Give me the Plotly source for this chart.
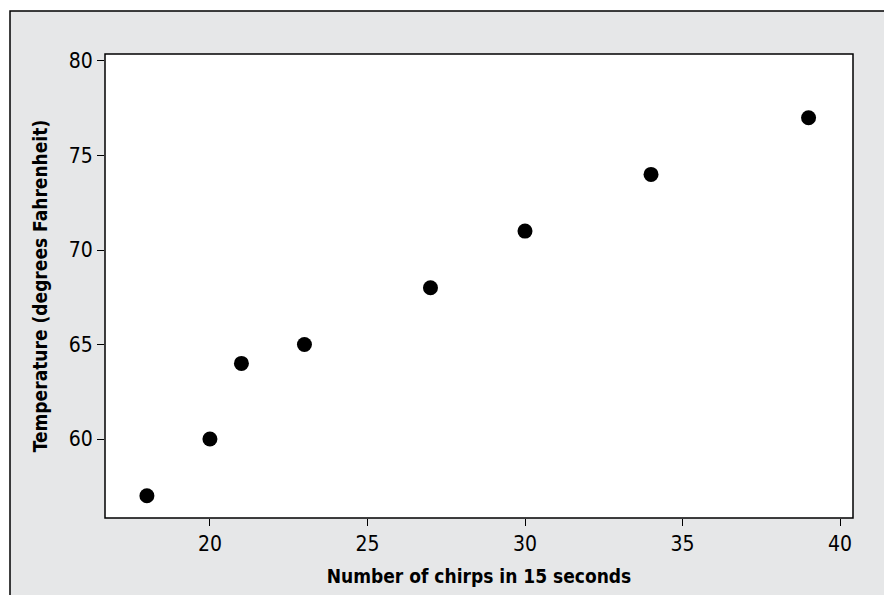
import plotly.graph_objects as go

# chirps vs temperature
chirps = [18, 20, 21, 23, 27, 30, 34, 39]
temp_f = [57, 60, 64, 65, 68, 71, 74, 77]

x_ticks = [20, 25, 30, 35, 40]
y_ticks = [60, 65, 70, 75, 80]

font_name = "DejaVu Sans Condensed, Liberation Sans Narrow, Roboto, sans-serif"

fig = go.Figure(go.Scatter(x=chirps, y=temp_f, mode="markers",
                           marker=dict(color="black", size=15)))

# grey panel with black top/left frame, then white plot area on top
fig.add_shape(type="rect", xref="paper", yref="paper", layer="below",
              x0=-0.127, x1=1.1, y0=-0.25, y1=1.0927,
              fillcolor="#e6e7e8", line=dict(color="black", width=1.5))
fig.add_shape(type="rect", xref="paper", yref="paper", layer="below",
              x0=0, x1=1, y0=0, y1=1,
              fillcolor="white", line=dict(color="black", width=1.5))

fig.update_xaxes(range=[16.67, 40.41], tickvals=x_ticks, ticks="outside",
                 ticklen=7, tickcolor="black", tickwidth=1, showgrid=False,
                 zeroline=False, showline=False,
                 tickfont=dict(family=font_name, size=21, color="black"),
                 title=dict(text="<b>Number of chirps in 15 seconds</b>",
                            font=dict(family=font_name, size=19, color="black"),
                            standoff=14))
fig.update_yaxes(range=[55.82, 80.37], tickvals=y_ticks, ticks="outside",
                 ticklen=7, tickcolor="black", tickwidth=1, showgrid=False,
                 zeroline=False, showline=False,
                 tickfont=dict(family=font_name, size=21, color="black"),
                 title=dict(text="<b>Temperature (degrees Fahrenheit)</b>",
                            font=dict(family=font_name, size=19, color="black"),
                            standoff=16))

fig.update_layout(width=884, height=595, paper_bgcolor="white",
                  plot_bgcolor="white", showlegend=False,
                  margin=dict(l=105, r=31, t=54, b=77))

fig.write_html("out.html", config={"displayModeBar": False},
               post_script="document.body.style.margin='0';")
